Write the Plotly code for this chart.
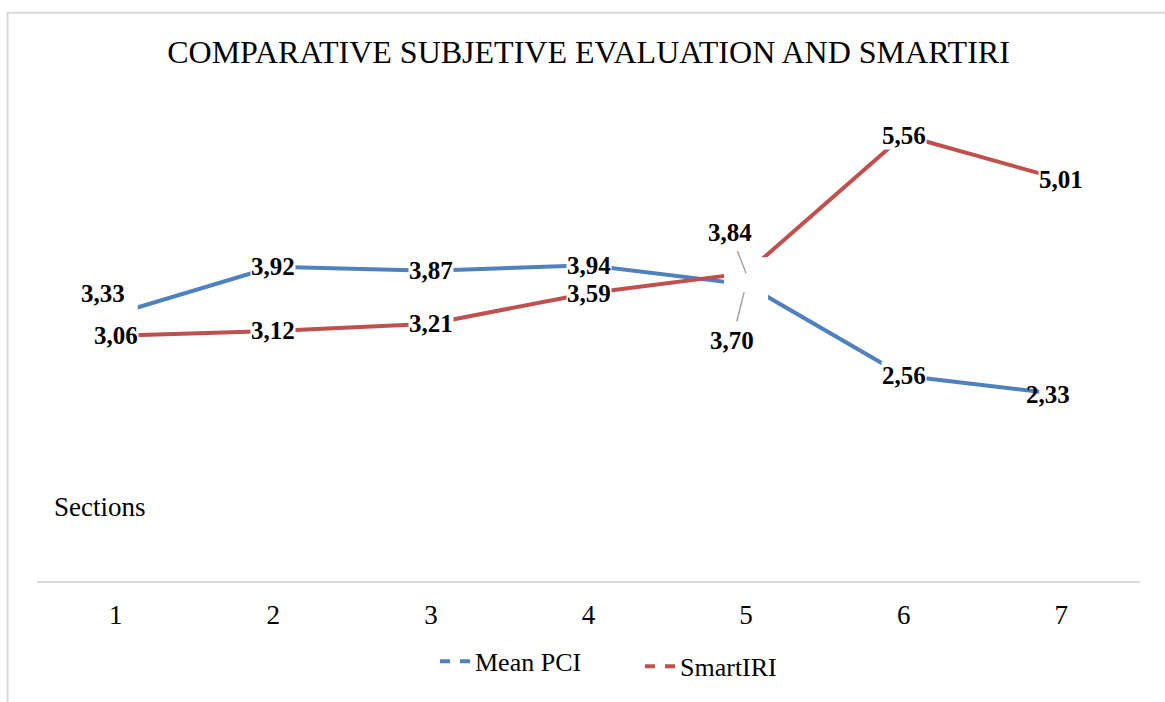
import plotly.graph_objects as go

sections = [1, 2, 3, 4, 5, 6, 7]
mean_pci = [3.33, 3.92, 3.87, 3.94, 3.70, 2.56, 2.33]
smart_iri = [3.06, 3.12, 3.21, 3.59, 3.84, 5.56, 5.01]
title_text = "COMPARATIVE SUBJETIVE EVALUATION AND SMARTIRI"
series_names = ["Mean PCI", "SmartIRI"]
x_title = "Sections"

BLUE = "#4F81BD"
RED = "#C0504D"
SERIF = "Liberation Serif, Times New Roman, serif"

W, H = 1165, 702
ML, MR, MT, MB = 37, 25, 100, 117
PW = W - ML - MR
PH = H - MT - MB


def px_to_paper_x(px):
    return (px - ML) / PW


def px_to_paper_y(py):
    return (H - MB - py) / PH


def fmt(v):
    return f"{v:.2f}".replace(".", ",")


fig = go.Figure()

fig.add_trace(go.Scatter(x=sections, y=mean_pci, mode="lines", name=series_names[0],
                         line=dict(color=BLUE, width=4), showlegend=False,
                         legendgroup="a", hoverinfo="skip"))
fig.add_trace(go.Scatter(x=sections, y=smart_iri, mode="lines", name=series_names[1],
                         line=dict(color=RED, width=4), showlegend=False,
                         legendgroup="b", hoverinfo="skip"))
# legend entries (dashed symbols as in the reference)
fig.add_trace(go.Scatter(x=[None], y=[None], mode="lines", name=series_names[0],
                         line=dict(color=BLUE, width=4, dash="10px,10px"),
                         legendgroup="a", legend="legend"))
fig.add_trace(go.Scatter(x=[None], y=[None], mode="lines", name=series_names[1],
                         line=dict(color=RED, width=4, dash="10px,10px"),
                         legendgroup="b", legend="legend2"))

label_font = dict(family=SERIF, size=25, color="black")

moved = {
    ("a", 0): dict(xshift=-13, yshift=21),
    ("a", 6): dict(xshift=-13, yshift=0),
}
arrows = {
    ("b", 4): dict(ax=-16, ay=-41, standoff=0, startstandoff=4),
    ("a", 4): dict(ax=-14, ay=56, standoff=8, startstandoff=4),
}

shapes = []
annotations = []

# white masks where the original label boxes interrupt the lines
for key, vals in (("a", mean_pci), ("b", smart_iri)):
    for i, (x, v) in enumerate(zip(sections, vals)):
        if (key, i) in moved or (key, i) in arrows:
            shapes.append(dict(type="rect", xref="x", yref="y", layer="above",
                               xsizemode="pixel", ysizemode="pixel",
                               xanchor=x, yanchor=v, x0=-22, x1=22, y0=-16, y1=16,
                               line=dict(width=0), fillcolor="white"))

for key, vals in (("a", mean_pci), ("b", smart_iri)):
    for i, (x, v) in enumerate(zip(sections, vals)):
        base = dict(x=x, y=v, xref="x", yref="y", text="<b>" + fmt(v) + "</b>",
                    font=label_font)
        if (key, i) in arrows:
            a = arrows[(key, i)]
            base.update(showarrow=True, arrowhead=0, arrowcolor="#A6A6A6", arrowwidth=1.5,
                        axref="pixel", ayref="pixel", ax=a["ax"], ay=a["ay"],
                        standoff=a["standoff"], startstandoff=a["startstandoff"])
        elif (key, i) in moved:
            base.update(showarrow=False, **moved[(key, i)])
        else:
            base.update(showarrow=False, bgcolor="white", borderpad=0)
        annotations.append(base)

annotations.append(dict(x=px_to_paper_x(52), y=px_to_paper_y(510), xref="paper", yref="paper",
                        text=x_title, showarrow=False, xanchor="left", yanchor="middle",
                        font=dict(family=SERIF, size=27, color="black")))

# chart-area border
shapes.append(dict(type="rect", xref="paper", yref="paper",
                   x0=px_to_paper_x(7.5), x1=px_to_paper_x(W + 20),
                   y0=px_to_paper_y(H + 20), y1=px_to_paper_y(12),
                   line=dict(color="#D9D9D9", width=2), fillcolor="rgba(0,0,0,0)",
                   layer="below"))

legend_font = dict(family=SERIF, size=26, color="black")

fig.update_layout(
    width=W, height=H,
    margin=dict(l=ML, r=MR, t=MT, b=MB, pad=0),
    paper_bgcolor="white", plot_bgcolor="white",
    title=dict(text=title_text, x=0.5, xanchor="center", xref="paper",
               y=1 - 52 / H, yref="container", yanchor="middle",
               font=dict(family=SERIF, size=32, color="black")),
    xaxis=dict(range=[0.5, 7.5], tickmode="array", tickvals=sections,
               ticktext=[str(s) for s in sections], showgrid=False, zeroline=False,
               showline=True, linecolor="#D9D9D9", linewidth=2, ticks="",
               ticklabelstandoff=9,
               tickfont=dict(family=SERIF, size=27, color="black")),
    yaxis=dict(range=[0, 6], showgrid=False, zeroline=False, showline=False,
               showticklabels=False, ticks=""),
    showlegend=True,
    legend=dict(orientation="h", x=px_to_paper_x(435), xanchor="left",
                y=px_to_paper_y(666), yanchor="middle", font=legend_font,
                bgcolor="rgba(0,0,0,0)"),
    legend2=dict(orientation="h", x=px_to_paper_x(640), xanchor="left",
                 y=px_to_paper_y(671), yanchor="middle", font=legend_font,
                 bgcolor="rgba(0,0,0,0)"),
    annotations=annotations,
    shapes=shapes,
)

fig.write_html("out.html", config={"displayModeBar": False},
               post_script="document.body.style.margin='0';document.body.style.overflow='hidden';")
